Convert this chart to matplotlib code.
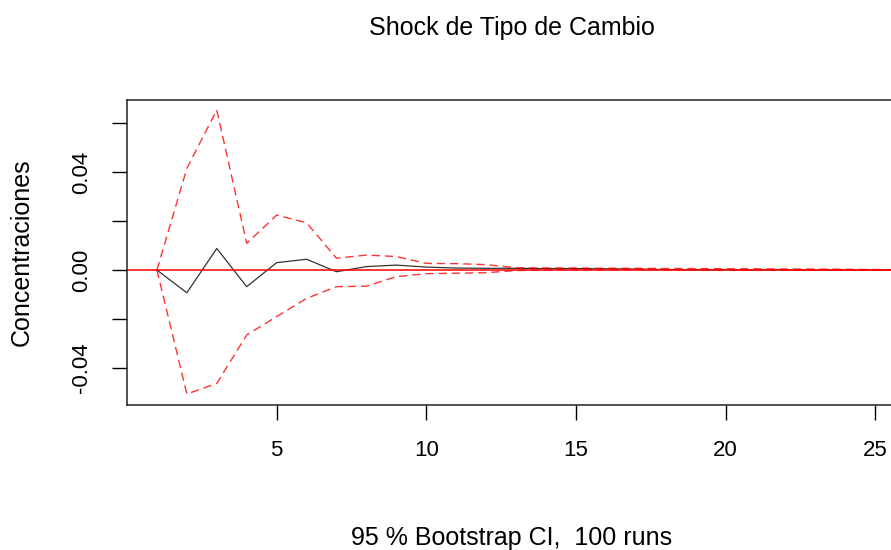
import matplotlib
matplotlib.use("Agg")
import matplotlib.pyplot as plt
import numpy as np

plt.rcParams["font.family"] = ["Liberation Sans", "DejaVu Sans"]

# impulse response horizon 1..26 and bootstrap band
horizon = np.arange(1, 27)
irf = [0.0, -0.0093, 0.0088, -0.0068, 0.0030, 0.0044, -0.0007, 0.0014, 0.0020,
       0.0012, 0.0008, 0.0007, 0.0007, 0.0006, 0.0006, 0.0005, 0.0004, 0.0002,
       0.0001, 0.0001, 0.0, 0.0, 0.0, 0.0, 0.0, 0.0]
upper = [0.0, 0.0415, 0.0653, 0.0109, 0.0224, 0.0193, 0.0048, 0.0061, 0.0055,
         0.0027, 0.0026, 0.0022, 0.0009, 0.0008, 0.0008, 0.0007, 0.0007, 0.0006,
         0.0006, 0.0005, 0.0005, 0.0004, 0.0004, 0.0003, 0.0002, 0.0001]
lower = [0.0, -0.0506, -0.0463, -0.0265, -0.0190, -0.0116, -0.0068, -0.0066,
         -0.0027, -0.0015, -0.0013, -0.0011, -0.0002, 0.0, 0.0001, 0.0001, 0.0001,
         0.0001, 0.0, 0.0, 0.0, 0.0, 0.0, 0.0, 0.0, 0.0]
yticks = [-0.04, -0.02, 0.0, 0.02, 0.04, 0.06]
ylabels = {-0.04: "-0.04", 0.0: "0.00", 0.04: "0.04"}
xticks = [5, 10, 15, 20, 25]

W, H = 891, 550
fig = plt.figure(figsize=(W / 100, H / 100), dpi=100)
# plot region runs past the right edge (the reference is cropped)
ax = fig.add_axes([127 / W, 1 - 405 / H, (935 - 127) / W, 305 / H])

ax.plot(horizon, irf, color="#333333", lw=0.9)
ax.plot(horizon, upper, color="red", lw=1.0, ls=(0, (6, 3.5)), alpha=0.8)
ax.plot(horizon, lower, color="red", lw=1.0, ls=(0, (6, 3.5)), alpha=0.8)
ax.axhline(0, color="red", lw=1.1)

ax.set_xticks(xticks)
ax.set_yticks(yticks)
ax.set_yticklabels([ylabels.get(round(t, 2), "") for t in yticks],
                   rotation=90, va="center")
ax.set_xlim(0, 27)
ax.set_ylim(-0.0551, 0.0694)
ax.tick_params(axis="x", length=11, width=1.0, labelsize=16, pad=14)
ax.tick_params(axis="y", length=11, width=1.0, labelsize=16, pad=14)
for s in ax.spines.values():
    s.set_linewidth(1.1)
    s.set_color("#222222")

fig.text(22 / W, 1 - 252 / H, "Concentraciones", rotation=90,
         ha="center", va="center", fontsize=18)
fig.text(512 / W, 1 - 28 / H, "Shock de Tipo de Cambio",
         ha="center", va="center", fontsize=18)
fig.text(512 / W, 1 - 538 / H, "95 % Bootstrap CI,  100 runs",
         ha="center", va="center", fontsize=18)

fig.savefig("out.png", dpi=100)
